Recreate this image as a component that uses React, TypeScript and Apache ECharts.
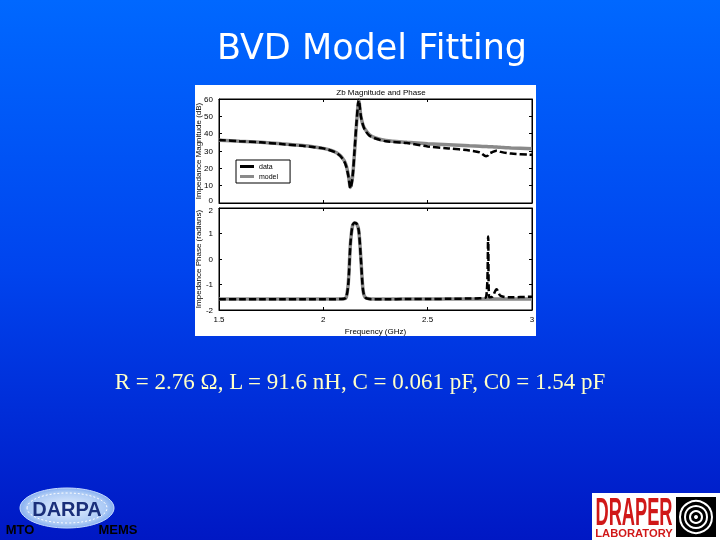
import React, { useEffect, useRef } from "react";
import * as echarts from "echarts";

const freq = [1.5, 1.6, 1.7, 1.8, 1.9, 1.95, 2.0, 2.05, 2.08, 2.1, 2.11, 2.12, 2.13, 2.14, 2.15, 2.16, 2.17, 2.18, 2.19, 2.2, 2.22, 2.25, 2.3, 2.4, 2.5, 2.6, 2.7, 2.75, 2.78, 2.79, 2.795, 2.81, 2.83, 2.85, 2.9, 3.0];

const magModel = [36.2, 35.6, 35.0, 34.2, 33.2, 32.5, 31.5, 29.8, 27.5, 24.5, 21.5, 16, 9, 15, 30, 47, 59, 50, 45, 42.5, 39.5, 37.5, 36, 35, 34.2, 33.6, 33, 32.8, 32.6, 32.5, 32.5, 32.4, 32.3, 32.1, 31.8, 31.3];
const magData = [36.4, 35.6, 35.0, 34.0, 33.0, 32.3, 31.5, 29.6, 27.3, 24.0, 21.0, 15.5, 8.5, 15, 31, 48, 59.5, 50, 45, 42, 39, 37.2, 35.6, 34.6, 32.6, 31.5, 30.3, 29.2, 27.0, 27.5, 28.5, 29.3, 30.2, 29.5, 28.5, 27.8];

const phaseModel = [-1.57, -1.57, -1.57, -1.57, -1.57, -1.57, -1.57, -1.57, -1.565, -1.56, -1.5, -0.9, 0.6, 1.3, 1.41, 1.38, 1.1, 0.0, -1.2, -1.5, -1.56, -1.57, -1.57, -1.57, -1.57, -1.57, -1.57, -1.57, -1.57, -1.57, -1.57, -1.57, -1.57, -1.57, -1.57, -1.57];
const phaseData = [-1.58, -1.58, -1.58, -1.58, -1.58, -1.58, -1.58, -1.58, -1.57, -1.56, -1.5, -0.95, 0.6, 1.32, 1.42, 1.38, 1.1, 0.0, -1.2, -1.5, -1.57, -1.58, -1.58, -1.57, -1.57, -1.56, -1.55, -1.54, -1.5, 0.88, -1.5, -1.48, -1.19, -1.45, -1.5, -1.48];

const magTicks = [0, 10, 20, 30, 40, 50, 60];
const phaseTicks = [-2, -1, 0, 1, 2];
const freqTicks = [1.5, 2, 2.5, 3];

const pairs = (ys: number[]) => freq.map((f, i) => [f, ys[i]]);

const labelFont = { fontFamily: "Liberation Sans, Arial, sans-serif", fontSize: 8, color: "#000" };

export default function App() {
  const ref = useRef<HTMLDivElement>(null);
  useEffect(() => {
    if (!ref.current) return;
    const chart = echarts.init(ref.current, undefined, { renderer: "svg" });
    const gridL = 219, gridW = 313;
    const xBase = (gi: number, pos: "bottom" | "top", labels: boolean) => ({
      type: "value",
      gridIndex: gi,
      position: pos,
      min: freqTicks[0],
      max: freqTicks[freqTicks.length - 1],
      interval: 0.5,
      axisLine: { show: true, onZero: false, lineStyle: { color: "#000", width: 1 } },
      axisTick: { show: true, inside: true, length: 3, lineStyle: { color: "#000" } },
      axisLabel: { show: labels, ...labelFont, margin: 5 },
      splitLine: { show: false },
    });
    const yBase = (gi: number, pos: "left" | "right", min: number, max: number, interval: number, labels: boolean, name?: string, edge?: "lo" | "hi") => ({
      type: "value",
      gridIndex: gi,
      position: pos,
      min,
      max,
      interval,
      name: name || "",
      nameLocation: "middle",
      nameGap: 17,
      nameRotate: 90,
      nameMoveOverlap: false,
      nameTextStyle: { ...labelFont },
      axisLine: { show: true, onZero: false, lineStyle: { color: "#000", width: 1 } },
      axisTick: { show: true, inside: true, length: 3, lineStyle: { color: "#000" } },
      axisLabel: {
        show: labels,
        ...labelFont,
        margin: 6,
        formatter: (v: number) => {
          if (edge === "lo" && v === min) return "{up|" + v + "}";
          if (edge === "hi" && v === max) return "{dn|" + v + "}";
          return String(v);
        },
        rich: {
          up: { ...labelFont, padding: [0, 0, 5, 0] },
          dn: { ...labelFont, padding: [5, 0, 0, 0] },
        },
      },
      splitLine: { show: false },
    });
    const modelStyle = { color: "#8a8a8a", width: 3.5, type: "solid" };
    const dataStyle = { color: "#000", width: 2.5, type: [7, 3] };
    chart.setOption({
      animation: false,
      graphic: [
        {
          type: "rect",
          shape: { x: 0, y: 0, width: 720, height: 540 },
          style: {
            fill: new echarts.graphic.LinearGradient(0, 0, 0, 1, [
              { offset: 0, color: "#0068ff" },
              { offset: 0.5, color: "#0044ee" },
              { offset: 1, color: "#0018c4" },
            ]),
          },
          z: -10,
        },
        { type: "rect", shape: { x: 195, y: 85, width: 341, height: 251 }, style: { fill: "#fff" }, z: -9 },
        {
          type: "text",
          x: 372,
          y: 47,
          style: { text: "BVD Model Fitting", fill: "#fff", font: "35px 'DejaVu Sans', Verdana, sans-serif", textAlign: "center", textVerticalAlign: "middle" },
        },
        {
          type: "text",
          x: 381,
          y: 92,
          style: { text: "Zb Magnitude and Phase", fill: "#000", font: "8px 'Liberation Sans', Arial, sans-serif", textAlign: "center", textVerticalAlign: "middle" },
        },
        {
          type: "text",
          x: 360,
          y: 381,
          style: { text: "R = 2.76 Ω, L = 91.6 nH, C = 0.061 pF, C0 = 1.54 pF", fill: "#ffffc8", font: "23px 'Liberation Serif', 'Times New Roman', serif", textAlign: "center", textVerticalAlign: "middle" },
        },
        // DARPA logo
        {
          type: "ellipse",
          shape: { cx: 67, cy: 508, rx: 47, ry: 20 },
          style: {
            fill: new echarts.graphic.RadialGradient(0.5, 0.5, 0.6, [
              { offset: 0, color: "#e8f2ff" },
              { offset: 0.7, color: "#a9c8f5" },
              { offset: 1, color: "#5c8fe8" },
            ]),
            stroke: "#c8dcff",
            lineWidth: 1,
          },
        },
        { type: "ellipse", shape: { cx: 67, cy: 508, rx: 40, ry: 15 }, style: { fill: "none", stroke: "#ffffff", lineWidth: 1, lineDash: [2, 2] } },
        {
          type: "text",
          x: 67,
          y: 509,
          style: { text: "DARPA", fill: "#1a2f7a", font: "bold 20px 'Liberation Sans', Arial, sans-serif", textAlign: "center", textVerticalAlign: "middle" },
        },
        { type: "text", x: 20, y: 529, style: { text: "MTO", fill: "#000", font: "bold 13px 'Liberation Sans', Arial, sans-serif", textAlign: "center", textVerticalAlign: "middle" } },
        { type: "text", x: 118, y: 529, style: { text: "MEMS", fill: "#000", font: "bold 13px 'Liberation Sans', Arial, sans-serif", textAlign: "center", textVerticalAlign: "middle" } },
        // Draper logo
        { type: "rect", shape: { x: 592, y: 493, width: 128, height: 47 }, style: { fill: "#fff" } },
        {
          type: "text",
          x: 634,
          y: 512,
          scaleX: 0.48,
          style: { text: "DRAPER", fill: "#d01818", font: "bold 38px 'Liberation Sans', Arial, sans-serif", textAlign: "center", textVerticalAlign: "middle" },
        },
        {
          type: "text",
          x: 634,
          y: 533,
          scaleX: 1.12,
          style: { text: "LABORATORY", fill: "#d01818", font: "bold 10px 'Liberation Sans', Arial, sans-serif", textAlign: "center", textVerticalAlign: "middle" },
        },
        { type: "rect", shape: { x: 676, y: 497, width: 40, height: 40 }, style: { fill: "#000" } },
        { type: "circle", shape: { cx: 696, cy: 517, r: 16 }, style: { fill: "#000", stroke: "#fff", lineWidth: 2 } },
        { type: "circle", shape: { cx: 696, cy: 517, r: 11 }, style: { fill: "#000", stroke: "#fff", lineWidth: 2 } },
        { type: "circle", shape: { cx: 696, cy: 517, r: 6 }, style: { fill: "#000", stroke: "#fff", lineWidth: 2 } },
        { type: "circle", shape: { cx: 696, cy: 517, r: 2 }, style: { fill: "#fff" } },
      ],
      grid: [
        { left: gridL, top: 99, width: gridW, height: 104, show: true, borderColor: "#000", borderWidth: 1, backgroundColor: "transparent" },
        { left: gridL, top: 208, width: gridW, height: 102, show: true, borderColor: "#000", borderWidth: 1, backgroundColor: "transparent" },
      ],
      xAxis: [
        xBase(0, "bottom", false),
        { ...xBase(1, "bottom", true), name: "Frequency (GHz)", nameLocation: "middle", nameGap: 17, nameMoveOverlap: false, nameTextStyle: { ...labelFont } },
        xBase(0, "top", false),
        xBase(1, "top", false),
      ],
      yAxis: [
        yBase(0, "left", magTicks[0], magTicks[magTicks.length - 1], 10, true, "Impedance Magnitude (dB)", "lo"),
        yBase(1, "left", phaseTicks[0], phaseTicks[phaseTicks.length - 1], 1, true, "Impedance Phase (radians)", "hi"),
        yBase(0, "right", magTicks[0], magTicks[magTicks.length - 1], 10, false),
        yBase(1, "right", phaseTicks[0], phaseTicks[phaseTicks.length - 1], 1, false),
      ],
      legend: {
        data: [
          { name: "data", icon: "rect", itemStyle: { color: "#000" } },
          { name: "model", icon: "rect", itemStyle: { color: "#8a8a8a" } },
        ],
        orient: "vertical",
        left: 236,
        top: 160,
        itemWidth: 14,
        itemHeight: 3,
        itemGap: 3,
        padding: [3, 12, 3, 4],
        borderColor: "#000",
        borderWidth: 1,
        backgroundColor: "#fff",
        textStyle: { ...labelFont, fontSize: 7 },
        selectedMode: false,
      },
      series: [
        { name: "model", type: "line", xAxisIndex: 0, yAxisIndex: 0, data: pairs(magModel), symbol: "none", smooth: 0.3, lineStyle: modelStyle, itemStyle: { color: "#8a8a8a" } },
        { name: "data", type: "line", xAxisIndex: 0, yAxisIndex: 0, data: pairs(magData), symbol: "none", smooth: 0.3, lineStyle: dataStyle, itemStyle: { color: "#000" } },
        { name: "model", type: "line", xAxisIndex: 1, yAxisIndex: 1, data: pairs(phaseModel), symbol: "none", smooth: 0.3, lineStyle: modelStyle, itemStyle: { color: "#8a8a8a" } },
        { name: "data", type: "line", xAxisIndex: 1, yAxisIndex: 1, data: pairs(phaseData), symbol: "none", smooth: 0.3, lineStyle: dataStyle, itemStyle: { color: "#000" } },
      ],
    });
    return () => chart.dispose();
  }, []);
  return <div ref={ref} style={{ position: "fixed", left: 0, top: 0, width: 720, height: 540 }} />;
}
